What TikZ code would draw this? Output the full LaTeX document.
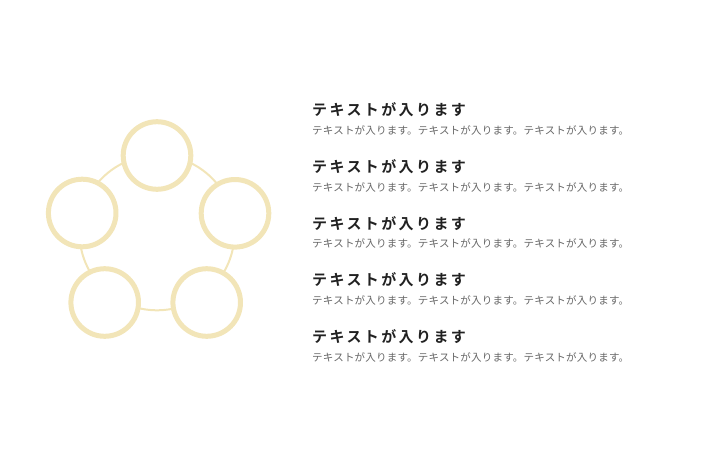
\documentclass[tikz,border=0pt]{standalone}
\usepackage{fontspec}
\usepackage{tikz}
\newfontfamily\jphead[LetterSpace=16]{Noto Sans CJK JP Bold}
\newfontfamily\jpbody[LetterSpace=2]{Noto Sans CJK JP}
\definecolor{ringc}{rgb}{0.95,0.90,0.72}
\definecolor{headc}{rgb}{0.13,0.13,0.13}
\definecolor{bodyc}{rgb}{0.40,0.40,0.40}
\tikzset{
  ring/.style={draw=ringc,line width=5pt},
  head/.style={anchor=west,inner sep=0pt,text=headc,font=\jphead\fontsize{15}{15}\selectfont},
  body/.style={anchor=west,inner sep=0pt,text=bodyc,font=\jpbody\fontsize{10.5}{10.5}\selectfont}
}
\begin{document}
\begin{tikzpicture}[line cap=round,line join=round,x=1pt,y=-1pt]
      \useasboundingbox (0,0) rectangle (720,450);
      \coordinate (o) at (157,232.8);
      \draw [color=ringc,line width=2pt] (o) circle (77.5pt);
      \foreach \x/\y [count=\i] in {157/155.5,235/213.3,206.7/302.5,104.7/302.5,82.2/213}
        \filldraw [ring,fill=white] (\x,\y) circle (33.8pt) node (c\i) {};
      \foreach \y [count=\i] in {110,167,223.5,280,337}
      {
        \node [head] (h\i) at (312,\y) {テキストが入ります};
        \node [body] (b\i) at (312,\y+20) {テキストが入ります。テキストが入ります。テキストが入ります。};
      }
\end{tikzpicture}
\end{document}
